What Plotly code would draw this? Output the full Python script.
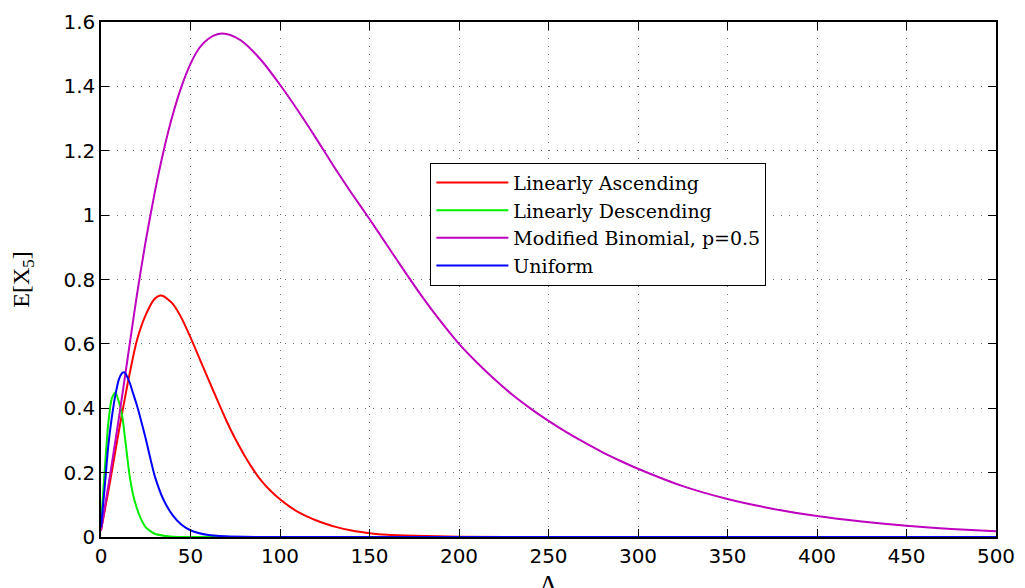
import plotly.graph_objects as go

# ---- data ----
asc_x = [0, 5, 10, 15, 20, 25, 30, 33, 35, 40, 45, 50, 55, 60, 65, 70, 75, 80, 85, 90, 95, 100,
         105, 110, 115, 120, 125, 130, 140, 150, 160, 175, 200, 250, 300, 400, 500]
asc_y = [0.02, 0.17, 0.33, 0.48, 0.61, 0.69, 0.74, 0.75, 0.748, 0.725, 0.68, 0.62, 0.555, 0.49,
         0.425, 0.362, 0.305, 0.255, 0.21, 0.172, 0.142, 0.117, 0.096, 0.078, 0.064, 0.052, 0.042,
         0.033, 0.02, 0.012, 0.007, 0.004, 0.001, 0.0, 0.0, 0.0, 0.0]

desc_x = [0, 2, 4, 6, 8, 10, 12, 14, 16, 18, 20, 22, 25, 30, 35, 40, 50, 100, 500]
desc_y = [0.04, 0.2, 0.35, 0.43, 0.45, 0.42, 0.37, 0.28, 0.19, 0.13, 0.09, 0.06, 0.03, 0.01,
          0.004, 0.001, 0.0, 0.0, 0.0]

binom_x = [0, 5, 10, 15, 20, 25, 30, 35, 40, 45, 50, 55, 60, 65, 70, 75, 80, 90, 100, 110, 120,
           130, 140, 150, 160, 170, 180, 190, 200, 210, 220, 230, 240, 250, 260, 270, 280, 290,
           300, 325, 350, 375, 400, 425, 450, 475, 500]
binom_y = [0.02, 0.19, 0.37, 0.56, 0.75, 0.92, 1.07, 1.20, 1.31, 1.40, 1.47, 1.52, 1.548, 1.562,
           1.563, 1.553, 1.535, 1.478, 1.405, 1.325, 1.24, 1.152, 1.068, 0.988, 0.905, 0.822,
           0.742, 0.668, 0.60, 0.542, 0.489, 0.441, 0.399, 0.361, 0.326, 0.294, 0.264, 0.237,
           0.212, 0.158, 0.118, 0.088, 0.065, 0.048, 0.035, 0.025, 0.018]

unif_x = [0, 2, 4, 6, 8, 10, 12, 13, 14, 16, 18, 20, 22, 25, 30, 35, 40, 45, 50, 60, 70, 80,
          100, 500]
unif_y = [0.03, 0.15, 0.28, 0.37, 0.44, 0.49, 0.51, 0.512, 0.505, 0.48, 0.445, 0.41, 0.37,
          0.305, 0.19, 0.115, 0.068, 0.038, 0.021, 0.006, 0.002, 0.0005, 0.0, 0.0]

series_names = ["Linearly Ascending", "Linearly Descending", "Modified Binomial, p=0.5", "Uniform"]
series_colors = ["#ff0000", "#00ee00", "#bf00bf", "#0000ff"]

x_ticks = [0, 50, 100, 150, 200, 250, 300, 350, 400, 450, 500]
y_ticks = [0, 0.2, 0.4, 0.6, 0.8, 1.0, 1.2, 1.4, 1.6]
y_ticktext = ["0", "0.2", "0.4", "0.6", "0.8", "1", "1.2", "1.4", "1.6"]

fig = go.Figure()
for xs, ys, name, col in zip([asc_x, desc_x, binom_x, unif_x], [asc_y, desc_y, binom_y, unif_y],
                             series_names, series_colors):
    fig.add_trace(go.Scatter(x=xs, y=ys, mode="lines", name=name,
                             line=dict(color=col, width=2, shape="spline", smoothing=0.6)))

axis_common = dict(
    showline=True, linecolor="black", linewidth=1.5, mirror="ticks",
    ticks="inside", ticklen=8, tickwidth=1, tickcolor="black",
    showgrid=True, gridcolor="#666666", gridwidth=1, griddash="1px,7px",
    zeroline=False,
    tickfont=dict(family="DejaVu Sans", size=20, color="black"),
)

fig.update_xaxes(range=[0, 500], tickvals=x_ticks, **axis_common)
fig.update_yaxes(range=[0, 1.6], tickvals=y_ticks, ticktext=y_ticktext, **axis_common)

fig.update_layout(
    width=1025, height=588,
    margin=dict(l=101, r=25, t=10, b=51),
    plot_bgcolor="white", paper_bgcolor="white",
    showlegend=True,
    legend=dict(
        x=0.368, y=0.727, xanchor="left", yanchor="top",
        bgcolor="white", bordercolor="black", borderwidth=1,
        font=dict(family="DejaVu Serif", size=19, color="black"),
        itemwidth=72, tracegroupgap=0,
    ),
    annotations=[
        dict(text="E[X<sub>5</sub>]", xref="paper", yref="paper",
             x=-0.088, y=0.5, xanchor="center", yanchor="middle", textangle=-90,
             showarrow=False, font=dict(family="Liberation Serif", size=24, color="black")),
        dict(text="Λ", xref="paper", yref="paper",
             x=0.5, y=-0.06, xanchor="center", yanchor="top",
             showarrow=False, font=dict(family="Liberation Serif", size=26, color="black")),
    ],
)

fig.write_html("out.html")
